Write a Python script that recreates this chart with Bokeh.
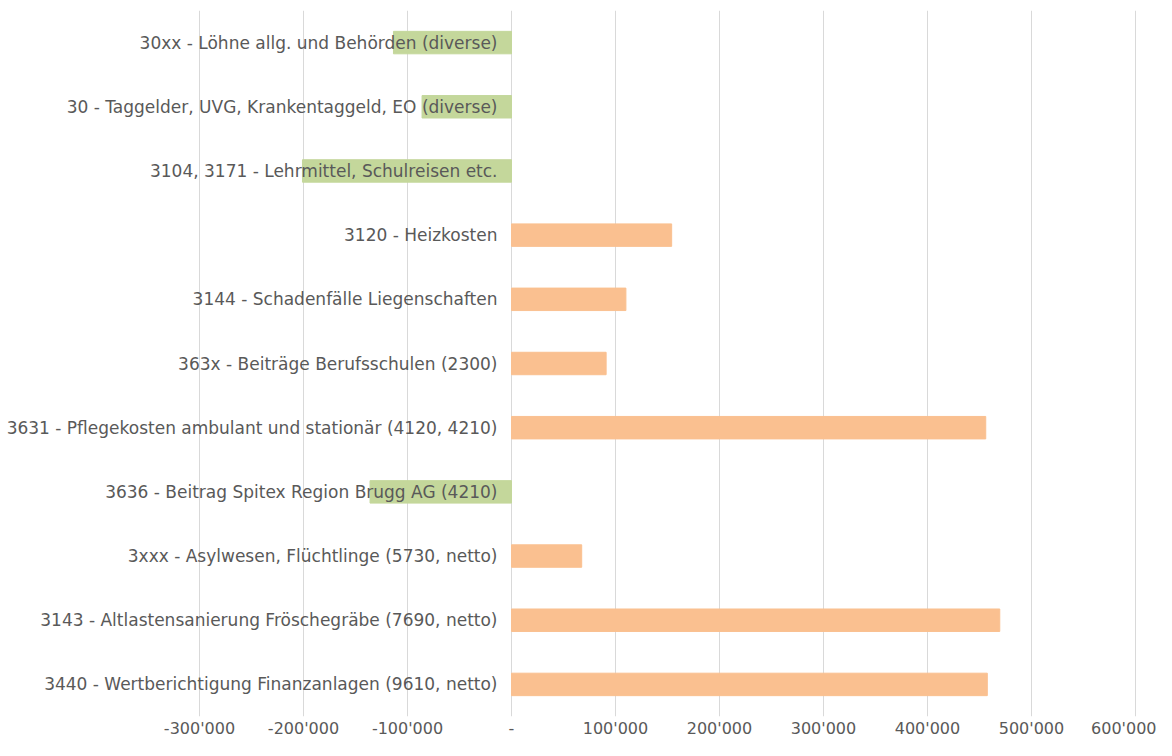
from bokeh.plotting import figure
from bokeh.models import ColumnDataSource, FactorRange, Range1d, FixedTicker
from bokeh.core.properties import value
from bokeh.embed import file_html
from bokeh.resources import INLINE

categories = [
    "30xx - Löhne allg. und Behörden (diverse)",
    "30 - Taggelder, UVG, Krankentaggeld, EO (diverse)",
    "3104, 3171 - Lehrmittel, Schulreisen etc.",
    "3120 - Heizkosten",
    "3144 - Schadenfälle Liegenschaften",
    "363x - Beiträge Berufsschulen (2300)",
    "3631 - Pflegekosten ambulant und stationär (4120, 4210)",
    "3636 - Beitrag Spitex Region Brugg AG (4210)",
    "3xxx - Asylwesen, Flüchtlinge (5730, netto)",
    "3143 - Altlastensanierung Fröschegräbe (7690, netto)",
    "3440 - Wertberichtigung Finanzanlagen (9610, netto)",
]
amounts = [-113500, -86000, -201000, 154000, 110000, 91000, 456000, -136000, 67500, 469500, 457500]

tick_values = [-300000, -200000, -100000, 0, 100000, 200000, 300000, 400000, 500000, 600000]
tick_labels = ["-300'000", "-200'000", "-100'000", "-", "100'000", "200'000",
               "300'000", "400'000", "500'000", "600'000"]

GREEN = "#C4D79B"
ORANGE = "#FAC090"
TEXT = "#595959"
FONT = "DejaVu Sans"

colors = [GREEN if v < 0 else ORANGE for v in amounts]
src = ColumnDataSource(dict(cat=categories, val=amounts, color=colors))

p = figure(
    width=1156, height=740,
    y_range=FactorRange(factors=list(reversed(categories)), range_padding=0),
    x_range=Range1d(-491346, 620192),
    output_backend="svg", toolbar_location=None,
    min_border_left=0, min_border_right=0, min_border_top=10, min_border_bottom=0,
)
p.hbar(y="cat", left=0, right="val", height=0.35, color="color", source=src)
p.text(x=0, y="cat", text="cat", source=src, x_offset=-14,
       text_align="right", text_baseline="middle",
       text_font=value(FONT), text_font_size="17px", text_color=TEXT)

p.yaxis.visible = False
p.ygrid.visible = False
p.xaxis.ticker = FixedTicker(ticks=tick_values)
p.xaxis.major_label_overrides = dict(zip(tick_values, tick_labels))
p.xaxis.axis_line_color = None
p.xaxis.major_tick_line_color = None
p.xaxis.minor_tick_line_color = None
p.xaxis.major_tick_out = 0
p.xaxis.major_tick_in = 0
p.xaxis.major_label_standoff = 2
p.xaxis.major_label_text_font = FONT
p.xaxis.major_label_text_font_size = "16px"
p.xaxis.major_label_text_color = TEXT
p.xgrid.grid_line_color = "#D9D9D9"
p.outline_line_color = None

open("out.html", "w").write(file_html(p, INLINE))
